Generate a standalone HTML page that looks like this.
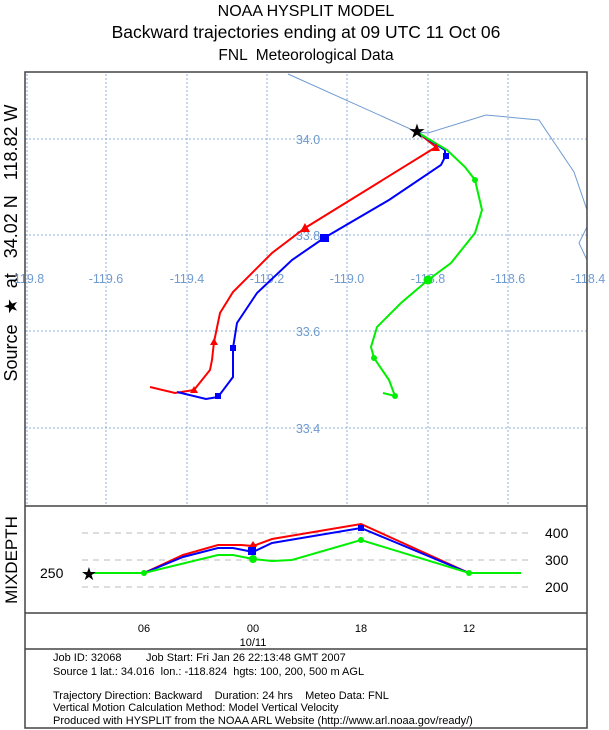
<!DOCTYPE html>
<html><head><style>html,body{margin:0;padding:0;background:#fff}svg{display:block}text{white-space:pre}</style></head>
<body>
<svg width="609" height="730" xmlns="http://www.w3.org/2000/svg" font-family="Liberation Sans, sans-serif" xml:space="preserve">
<rect width="609" height="730" fill="#fff"/>
<g text-anchor="middle" fill="#000">
<text x="306" y="16" font-size="16">NOAA HYSPLIT MODEL</text>
<text x="306" y="38" font-size="17.5">Backward trajectories ending at 09 UTC 11 Oct 06</text>
<text x="306" y="60" font-size="15.5">FNL  Meteorological Data</text>
</g>
<text transform="translate(17,243) rotate(-90)" text-anchor="middle" font-size="18">Source  ★  at   34.02 N   118.82 W</text>
<text transform="translate(17,560) rotate(-90)" text-anchor="middle" font-size="17">MIXDEPTH</text>
<g stroke="#8fb0d8" stroke-width="1" stroke-dasharray="2,2">
<line x1="27" y1="74" x2="27" y2="506"/><line x1="106" y1="74" x2="106" y2="506"/><line x1="187" y1="74" x2="187" y2="506"/><line x1="267" y1="74" x2="267" y2="506"/><line x1="347" y1="74" x2="347" y2="506"/><line x1="428" y1="74" x2="428" y2="506"/><line x1="508" y1="74" x2="508" y2="506"/>
<line x1="25" y1="139" x2="587" y2="139"/><line x1="25" y1="235" x2="587" y2="235"/><line x1="25" y1="331" x2="587" y2="331"/><line x1="25" y1="428" x2="587" y2="428"/>
</g>
<g fill="#6f9bd0" font-size="12.5" text-anchor="middle">
<text x="27" y="283">-119.8</text><text x="106" y="283">-119.6</text><text x="187" y="283">-119.4</text><text x="267" y="283">-119.2</text><text x="347" y="283">-119.0</text><text x="428" y="283">-118.8</text><text x="508" y="283">-118.6</text><text x="588" y="283">-118.4</text>
<text x="308" y="144">34.0</text><text x="308" y="240">33.8</text><text x="308" y="336">33.6</text><text x="308" y="433">33.4</text>
</g>
<polyline fill="none" stroke="#6f9bd0" stroke-width="1" points="288,74 417,132 428,133 486,115 539,120 574,172 587,210 587,227 579,243 587,260"/>
<polyline fill="none" stroke="#f00" stroke-width="2" points="417,132 436,147 305,228 272,253 233,292 220,313 214,342 212,360 210,370 194,390 175,393 150,387"/>
<polyline fill="none" stroke="#00f" stroke-width="2" points="417,132 445,150 445,157 441,165 389,200 324,238 292,260 257,293 237,323 233,348 233,377 218,397 206,399 177,392"/>
<polyline fill="none" stroke="#0e0" stroke-width="2" points="417,132 447,150 465,167 475,180 482,210 475,233 451,263 428,280 401,303 377,327 371,347 374,358 389,380 395,396 383,393"/>
<g fill="#f00"><polygon points="436,143 440,151 432,151"/><polygon points="305,223 310,232 300,232"/><polygon points="214,338 218,345 210,345"/><polygon points="194,386 198,393 190,393"/></g>
<g fill="#00f"><rect x="443" y="153" width="6" height="6"/><rect x="320" y="234" width="9" height="8"/><rect x="230" y="345" width="6" height="6"/><rect x="215" y="393" width="6" height="6"/></g>
<g fill="#0e0"><circle cx="475" cy="180" r="3"/><circle cx="428" cy="280" r="4.5"/><circle cx="374" cy="358" r="3"/><circle cx="395" cy="396" r="3"/></g>
<text x="417" y="138" font-size="20" text-anchor="middle">★</text>
<g fill="none" stroke="#444" stroke-width="1.5">
<rect x="25" y="72" width="562" height="656"/>
<line x1="25" y1="506" x2="587" y2="506"/><line x1="25" y1="613" x2="587" y2="613"/><line x1="25" y1="649" x2="587" y2="649"/>
</g>
<g stroke="#bbb" stroke-dasharray="6,5"><line x1="82" y1="533" x2="531" y2="533"/><line x1="82" y1="560" x2="531" y2="560"/><line x1="82" y1="587" x2="531" y2="587"/></g>
<g font-size="14"><text x="545" y="538">400</text><text x="545" y="565">300</text><text x="545" y="592">200</text><text x="40" y="578">250</text></g>
<polyline fill="none" stroke="#f00" stroke-width="2" points="89,573 144,573 183,555 218,545 241,545 253,546 272,539 361,524 469,573 521,573"/>
<polyline fill="none" stroke="#00f" stroke-width="2" points="89,573 144,573 183,557 218,548 233,548 253,552 272,543 361,528 469,573 521,573"/>
<polyline fill="none" stroke="#0e0" stroke-width="2" points="89,573 144,573 218,555 233,555 253,559 272,561 292,560 361,540 469,573 521,573"/>
<g fill="#00f"><rect x="248" y="547" width="8" height="8"/><rect x="358" y="525" width="6" height="6"/></g>
<g fill="#0e0"><circle cx="144" cy="573" r="3"/><circle cx="253" cy="559" r="4"/><circle cx="361" cy="540" r="3"/><circle cx="469" cy="573" r="3"/></g>
<polygon fill="#f00" points="253,541 257,547 249,547"/>
<text x="89" y="580" font-size="18" text-anchor="middle">★</text>
<g font-size="11" text-anchor="middle"><text x="144" y="632">06</text><text x="253" y="632">00</text><text x="361" y="632">18</text><text x="469" y="632">12</text><text x="253" y="646">10/11</text></g>
<g font-size="11"><text x="53" y="661">Job ID: 32068        Job Start: Fri Jan 26 22:13:48 GMT 2007</text>
<text x="53" y="675">Source 1 lat.: 34.016  lon.: -118.824  hgts: 100, 200, 500 m AGL</text>
<text x="53" y="699">Trajectory Direction: Backward    Duration: 24 hrs    Meteo Data: FNL</text>
<text x="53" y="711">Vertical Motion Calculation Method: Model Vertical Velocity</text>
<text x="53" y="724">Produced with HYSPLIT from the NOAA ARL Website (http://www.arl.noaa.gov/ready/)</text></g>
</svg>
</body></html>
